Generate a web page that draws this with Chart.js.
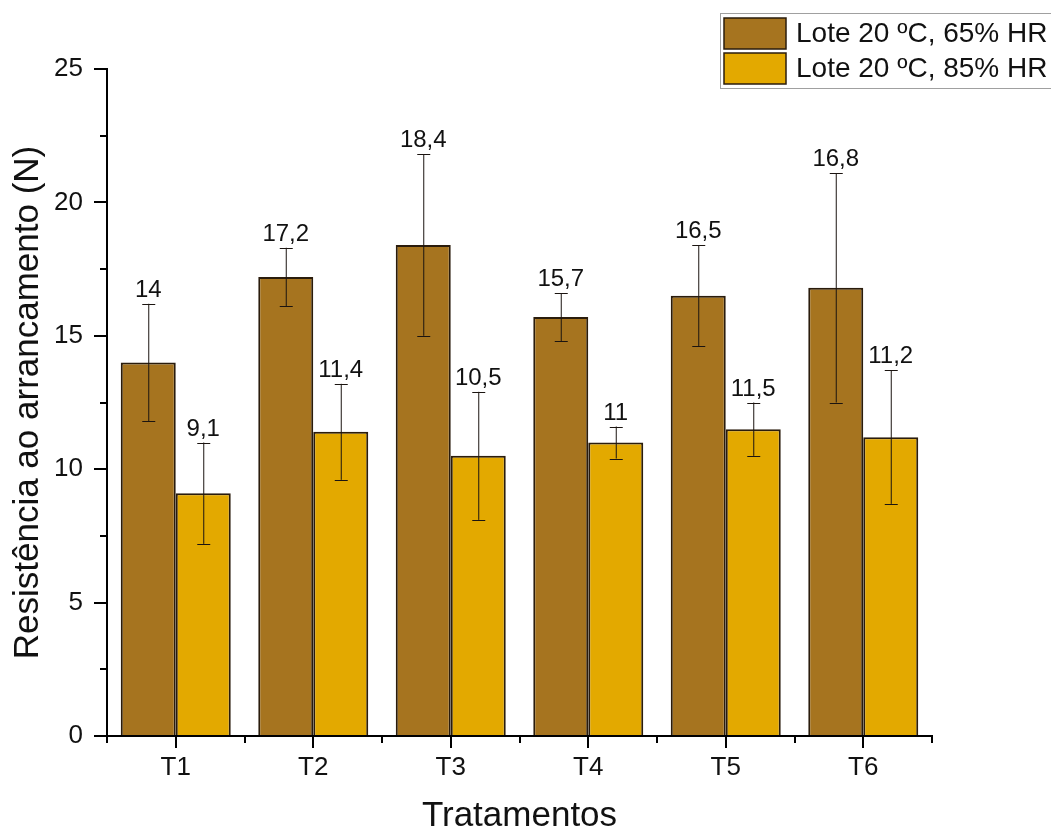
<!DOCTYPE html>
<html>
<head>
<meta charset="utf-8">
<script src="https://cdn.jsdelivr.net/npm/chart.js@4/dist/chart.umd.min.js"></script>
<style>
  html, body { margin: 0; padding: 0; background: #fff; }
  #wrap { width: 1051px; height: 834px; position: relative; }
</style>
</head>
<body>
<div id="wrap"><canvas id="c"></canvas></div>
<script>
// Pull-out resistance per treatment for two storage conditions
const categories = ['T1', 'T2', 'T3', 'T4', 'T5', 'T6'];
const seriesNames = ['Lote 20 ºC, 65% HR', 'Lote 20 ºC, 85% HR'];
const rh65 = [14, 17.2, 18.4, 15.7, 16.5, 16.8];
const rh65Err = [2.2, 1.1, 3.4, 0.9, 1.9, 4.3];
const rh85 = [9.1, 11.4, 10.5, 11, 11.5, 11.2];
const rh85Err = [1.9, 1.8, 2.4, 0.6, 1.0, 2.5];
const yTicks = [0, 5, 10, 15, 20, 25];
const yMinorTicks = [2.5, 7.5, 12.5, 17.5, 22.5];
const xTitle = 'Tratamentos';
const yTitle = 'Resistência ao arrancamento (N)';

const FONT = '"Liberation Sans", Arial, sans-serif';
const colors = ['#A6741F', '#E3A900'];
const edge = '#2a1c0c';

// error bars + value labels above each bar
const errorBarsPlugin = {
  id: 'errorBars',
  afterDatasetsDraw(chart) {
    const ctx = chart.ctx;
    const y = chart.scales.y;
    chart.data.datasets.forEach((ds, di) => {
      const meta = chart.getDatasetMeta(di);
      meta.data.forEach((bar, i) => {
        const v = ds.data[i];
        const e = ds.errors[i];
        const yTop = y.getPixelForValue(v + e);
        const yBot = y.getPixelForValue(v - e);
        const x = bar.x;
        ctx.save();
        ctx.strokeStyle = '#1b1410';
        ctx.lineWidth = 1;
        ctx.beginPath();
        ctx.moveTo(x + 0.5, yTop);
        ctx.lineTo(x + 0.5, yBot);
        ctx.moveTo(x - 6, Math.round(yTop) + 0.5);
        ctx.lineTo(x + 7, Math.round(yTop) + 0.5);
        ctx.moveTo(x - 6, Math.round(yBot) + 0.5);
        ctx.lineTo(x + 7, Math.round(yBot) + 0.5);
        ctx.stroke();
        ctx.fillStyle = '#111';
        ctx.font = '24px ' + FONT;
        ctx.textAlign = 'center';
        ctx.textBaseline = 'alphabetic';
        ctx.fillText(String(v).replace('.', ','), x, yTop - 7);
        ctx.restore();
      });
    });
  }
};

// minor tick marks on both axes
const minorTicksPlugin = {
  id: 'minorTicks',
  afterDraw(chart) {
    const ctx = chart.ctx;
    const { x, y } = chart.scales;
    const area = chart.chartArea;
    ctx.save();
    ctx.strokeStyle = '#000';
    ctx.lineWidth = 2;
    ctx.beginPath();
    yMinorTicks.forEach(v => {
      const py = Math.round(y.getPixelForValue(v));
      ctx.moveTo(area.left - 7, py);
      ctx.lineTo(area.left, py);
    });
    for (let i = 0; i <= categories.length; i++) {
      const px = Math.round(x.getPixelForValue(i - 0.5));
      ctx.moveTo(px, area.bottom);
      ctx.lineTo(px, area.bottom + 7);
    }
    ctx.stroke();
    ctx.restore();
  }
};

// boxed legend in the top-right corner
const boxLegendPlugin = {
  id: 'boxLegend',
  afterDraw(chart) {
    const ctx = chart.ctx;
    ctx.save();
    ctx.strokeStyle = '#a0a0a0';
    ctx.lineWidth = 1;
    ctx.fillStyle = '#fff';
    ctx.fillRect(720, 13, 340, 75);
    ctx.strokeRect(720.5, 13.5, 340, 75);
    chart.data.datasets.forEach((ds, i) => {
      const top = 18 + i * 35;
      ctx.fillStyle = ds.backgroundColor;
      ctx.fillRect(724, top, 62, 31);
      ctx.strokeStyle = edge;
      ctx.lineWidth = 1.5;
      ctx.strokeRect(724, top, 62, 31);
      ctx.fillStyle = '#111';
      ctx.font = '28px ' + FONT;
      ctx.textAlign = 'left';
      ctx.textBaseline = 'middle';
      ctx.fillText(ds.label, 796, top + 16);
    });
    ctx.restore();
  }
};

new Chart(document.getElementById('c'), {
  type: 'bar',
  data: {
    labels: categories,
    datasets: [
      { label: seriesNames[0], data: rh65, errors: rh65Err, backgroundColor: colors[0],
        borderColor: edge, borderWidth: 2 },
      { label: seriesNames[1], data: rh85, errors: rh85Err, backgroundColor: colors[1],
        borderColor: edge, borderWidth: 2 }
    ]
  },
  options: {
    responsive: true,
    maintainAspectRatio: false,
    animation: false,
    devicePixelRatio: 1,
    layout: { padding: { top: 69, right: 119, bottom: 0, left: 0 } },
    datasets: { bar: { categoryPercentage: 0.8, barPercentage: 1.0 } },
    plugins: { legend: { display: false }, tooltip: { enabled: false } },
    scales: {
      x: {
        grid: { offset: false, drawOnChartArea: false, drawTicks: true, tickLength: 12,
                color: '#000', lineWidth: 2 },
        border: { display: true, color: '#000', width: 2 },
        ticks: { color: '#111', font: { family: FONT, size: 26 }, padding: 4 },
        title: { display: true, text: xTitle, color: '#111',
                 font: { family: FONT, size: 35, lineHeight: 1 }, padding: { top: 0, bottom: 0 } },
        afterFit(scale) { scale.height = 98; }
      },
      y: {
        min: 0, max: 25,
        afterBuildTicks(scale) { scale.ticks = yTicks.map(v => ({ value: v })); },
        grid: { drawOnChartArea: false, drawTicks: true, tickLength: 13, color: '#000', lineWidth: 2 },
        border: { display: true, color: '#000', width: 2 },
        ticks: { color: '#111', font: { family: FONT, size: 26 }, padding: 11 },
        title: { display: true, text: yTitle, color: '#111',
                 font: { family: FONT, size: 35, lineHeight: 1 }, padding: { top: 11, bottom: 0 } },
        afterFit(scale) { scale.width = 107; }
      }
    }
  },
  plugins: [errorBarsPlugin, minorTicksPlugin, boxLegendPlugin]
});
</script>
</body>
</html>
